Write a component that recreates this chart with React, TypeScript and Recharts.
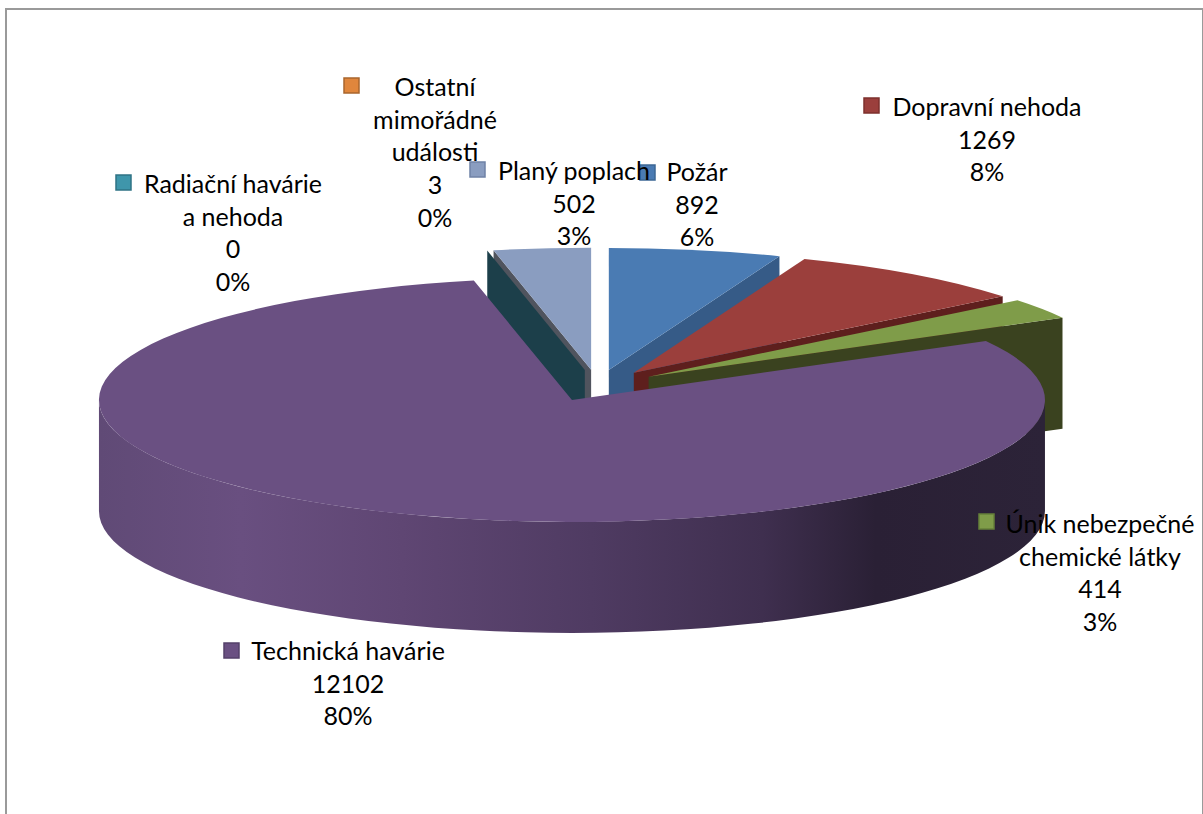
import { PieChart, Pie } from 'recharts';

// Rotated so the big slice is painted last: it overlaps the walls of the others in the picture
const categories = [
  'Ostatní\nmimořádné\nudálosti',
  'Radiační havárie\na nehoda',
  'Planý poplach',
  'Požár',
  'Dopravní nehoda',
  'Únik nebezpečné\nchemické látky',
  'Technická havárie',
];
const values = [3, 0, 502, 892, 1269, 414, 12102];
const topColors = ['#e0863c', '#3f96ab', '#8a9dc0', '#4a7bb3', '#9b3f3c', '#7f9c49', '#6a5082'];
const wallColors = ['#7a4a20', '#1c3f4a', '#50545e', '#365b87', '#5e1f1d', '#3a421f', '#2c2338'];
const squareBorders = ['#a9652c', '#2f7385', '#6f82a6', '#3c6795', '#7d302d', '#66803a', '#54406a'];

// centre of the text block, centre of the first line, top-left of the legend square
const labelSpots = [
  { x: 435, y: 86, sx: 344, sy: 78 },
  { x: 233, y: 183, sx: 116, sy: 175 },
  { x: 574, y: 170, sx: 470, sy: 162 },
  { x: 697, y: 171, sx: 640, sy: 165 },
  { x: 987, y: 106, sx: 864, sy: 98 },
  { x: 1100, y: 523, sx: 979, sy: 514 },
  { x: 348, y: 650, sx: 224, sy: 643 },
];

const chartData = categories.map((name, i) => ({ name, value: values[i] }));
const total = values.reduce((a, b) => a + b, 0);
const leading = values.slice(0, 3).reduce((a, b) => a + b, 0);
const firstAngle = 90 + (leading / total) * 360;

const CX = 597.5;
const CY = 385.5;
const RX = 473;
const RY = 122;
const DEPTH = 111;
const EXPLODE = 0.13;

const rad = (deg: number) => (deg * Math.PI) / 180;
const norm = (deg: number) => ((deg % 360) + 360) % 360;

function Slice3D(props: any) {
  const idx = categories.indexOf(props.name);
  // a zero slice has no face, the next slice paints its wall (it sits in front of that slice's wall)
  if (values[idx] === 0) return <g />;

  // clockwise from the top of the pie
  const s = 90 - props.startAngle;
  const e = 90 - props.endAngle;
  const R = props.outerRadius;
  const apexX = (mid: number) => props.cx + EXPLODE * R * Math.sin(rad(mid));
  const apexY = (mid: number) => props.cy - EXPLODE * RY * Math.cos(rad(mid));
  const ax = apexX((s + e) / 2);
  const ay = apexY((s + e) / 2);
  const px = (a: number) => ax + R * Math.sin(rad(a));
  const py = (a: number) => ay - RY * Math.cos(rad(a));

  const sideWall = (a: number, mid: number) => {
    const x0 = apexX(mid);
    const y0 = apexY(mid);
    const x1 = x0 + R * Math.sin(rad(a));
    const y1 = y0 - RY * Math.cos(rad(a));
    return `M${x0},${y0} L${x1},${y1} L${x1},${y1 + DEPTH} L${x0},${y0 + DEPTH} Z`;
  };

  const sNorm = norm(s);
  const eNorm = norm(e);
  const showStart = sNorm > 180 && sNorm < 360;
  const showEnd = eNorm > 0 && eNorm < 180;
  const zeroBefore = idx > 0 && values[idx - 1] === 0;

  // outer rim is only seen on the front half
  const from = Math.max(sNorm, 90);
  const to = Math.min(sNorm + (e - s), 270);
  const large = e - s > 180 ? 1 : 0;

  return (
    <g>
      {showStart && e - s > 0.5 && <path d={sideWall(s, (s + e) / 2)} fill={wallColors[idx]} />}
      {zeroBefore && <path d={sideWall(s, s)} fill={wallColors[idx - 1]} />}
      {showEnd && <path d={sideWall(e, (s + e) / 2)} fill={wallColors[idx]} />}
      {to > from && (
        <>
          <defs>
            <linearGradient id={`rim-${idx}`} gradientUnits="userSpaceOnUse" x1={99} y1={0} x2={1046} y2={0}>
              <stop offset="0%" stopColor="#604a76" />
              <stop offset="15%" stopColor="#694f80" />
              <stop offset="32%" stopColor="#5f4673" />
              <stop offset="52%" stopColor="#4f3b62" />
              <stop offset="70%" stopColor="#3f2f4f" />
              <stop offset="82%" stopColor="#2a2035" />
              <stop offset="100%" stopColor="#2c2338" />
            </linearGradient>
          </defs>
          <path
            d={`M${px(from)},${py(from)} A${RX},${RY} 0 0 1 ${px(to)},${py(to)} L${px(to)},${py(to) + DEPTH} A${RX},${RY} 0 0 0 ${px(from)},${py(from) + DEPTH} Z`}
            fill={`url(#rim-${idx})`}
          />
        </>
      )}
      {e - s > 0.5 && (
        <path
          d={`M${ax},${ay} L${px(s)},${py(s)} A${RX},${RY} 0 ${large} 1 ${px(e)},${py(e)} Z`}
          fill={topColors[idx]}
        />
      )}
    </g>
  );
}

function SliceLabel(props: any) {
  const idx = categories.indexOf(props.name);
  const spot = labelSpots[idx];
  const lines = [...props.name.split('\n'), String(props.value), `${Math.round(props.percent * 100)}%`];
  return (
    <g>
      {/* all squares go out with the first label, so every text stays above them */}
      {idx === 0 &&
        labelSpots.map((sq, i) => (
          <rect
            key={i}
            x={sq.sx}
            y={sq.sy}
            width={15}
            height={15}
            fill={topColors[i]}
            stroke={squareBorders[i]}
            strokeWidth={1.5}
          />
        ))}
      {lines.map((line: string, i: number) => (
        <text
          key={i}
          x={spot.x}
          y={spot.y + i * 32.7}
          textAnchor="middle"
          dominantBaseline="central"
          fontFamily="Lato, sans-serif"
          fontSize={25}
          fill="#000"
        >
          {line}
        </text>
      ))}
    </g>
  );
}

function App() {
  return (
    <div style={{ position: 'absolute', left: 0, top: 0, width: 1203, height: 814, background: '#fff', overflow: 'hidden' }}>
      <div
        style={{
          position: 'absolute',
          left: 5,
          top: 8,
          width: 1195,
          height: 830,
          border: '2px solid #9a9a9a',
          borderRightWidth: 1,
        }}
      />
      <div style={{ position: 'absolute', left: 0, top: 0 }}>
        <PieChart width={1203} height={814} margin={{ top: 0, right: 0, bottom: 0, left: 0 }}>
          <Pie
            data={chartData}
            dataKey="value"
            nameKey="name"
            cx={CX}
            cy={CY}
            innerRadius={0}
            outerRadius={RX}
            startAngle={firstAngle}
            endAngle={firstAngle - 360}
            paddingAngle={0}
            shape={Slice3D}
            label={SliceLabel}
            labelLine={false}
            isAnimationActive={false}
          />
        </PieChart>
      </div>
    </div>
  );
}

export default App;
